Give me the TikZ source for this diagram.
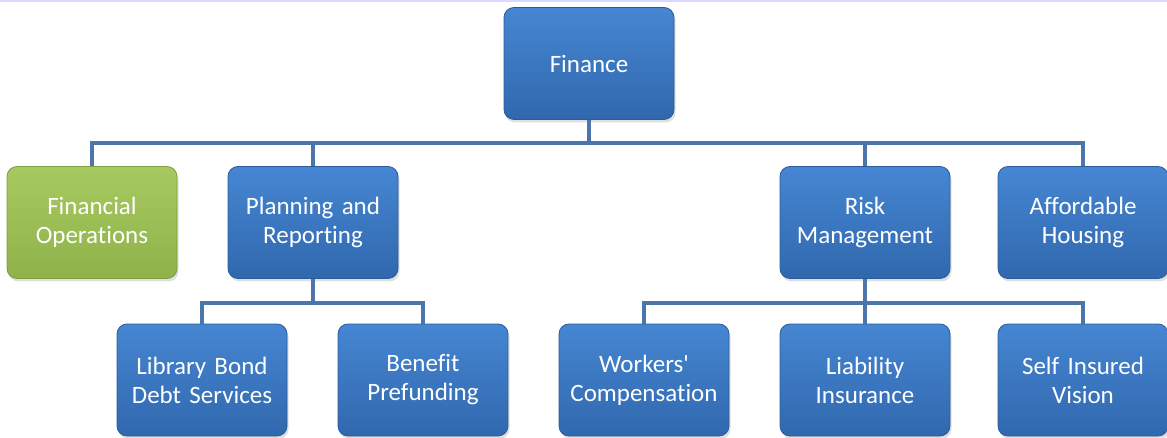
\documentclass[tikz,border=0pt]{standalone}
\usepackage{fontspec}
\setmainfont{Carlito}[Ligatures={TeXOff,CommonOff,ContextualOff},RawFeature={-liga;-dlig;-clig;-calt}]
\usepackage{tikz}
\usetikzlibrary{shadows,calc}

\definecolor{boxtop}{HTML}{4686D2}
\definecolor{boxbot}{HTML}{3068AE}
\definecolor{boxedge}{HTML}{2A5C9C}
\definecolor{greentop}{HTML}{A6CA60}
\definecolor{greenbot}{HTML}{8FB24A}
\definecolor{greenedge}{HTML}{7E9E40}
\definecolor{linkcol}{HTML}{4A76AC}

\tikzset{
    unit/.style={rounded corners=10pt, minimum width=170pt, minimum height=112pt,
        text width=164pt, inner sep=2pt, align=center, text=white, font=\fontsize{25}{29}\selectfont,
        top color=boxtop, bottom color=boxbot, draw=boxedge, line width=0.8pt,
        drop shadow={shadow xshift=1.5pt, shadow yshift=-3pt, opacity=0.25}},
    greenunit/.style={unit, top color=greentop, bottom color=greenbot, draw=greenedge},
    link/.style={linkcol, line width=4pt}
}

\begin{document}
\begin{tikzpicture}[x=1pt,y=-1pt]
    \useasboundingbox (0,0) rectangle (1167,438);

    % thin rule along the top
    \fill[blue!15] (0,0) rectangle (1167,2);

    % Top level
    \node[unit] (fin) at (589,63.5) {Finance};

    % Second level
    \node[greenunit] (fo) at (92,222.5) {Financial\\Operations};
    \node[unit] (pr) at (313,222.5) {Planning and\\Reporting};
    \node[unit] (rm) at (865,222.5) {Risk\\Management};
    \node[unit] (ah) at (1083,222.5) {Affordable\\Housing};

    % Third level
    \node[unit] (lb) at (202,380) {Library Bond\\Debt Services};
    \node[unit] (bp) at (423,380) {Benefit\\Prefunding};
    \node[unit] (wc) at (644,380) {Workers'\\Compensation};
    \node[unit] (li) at (865,380) {Liability\\Insurance};
    \node[unit] (si) at (1083,380) {Self Insured\\Vision};

    % Bus lines
    \coordinate (topbus) at (0,143);
    \coordinate (lowbus) at (0,303);

    % Connectors
    \foreach \n in {fo,pr,rm,ah}
        \draw[link] (fin.south) |- (\n.north |- topbus) -- (\n.north);
    \foreach \n in {lb,bp}
        \draw[link] (pr.south) |- (\n.north |- lowbus) -- (\n.north);
    \foreach \n in {wc,li,si}
        \draw[link] (rm.south) |- (\n.north |- lowbus) -- (\n.north);

\end{tikzpicture}
\end{document}
